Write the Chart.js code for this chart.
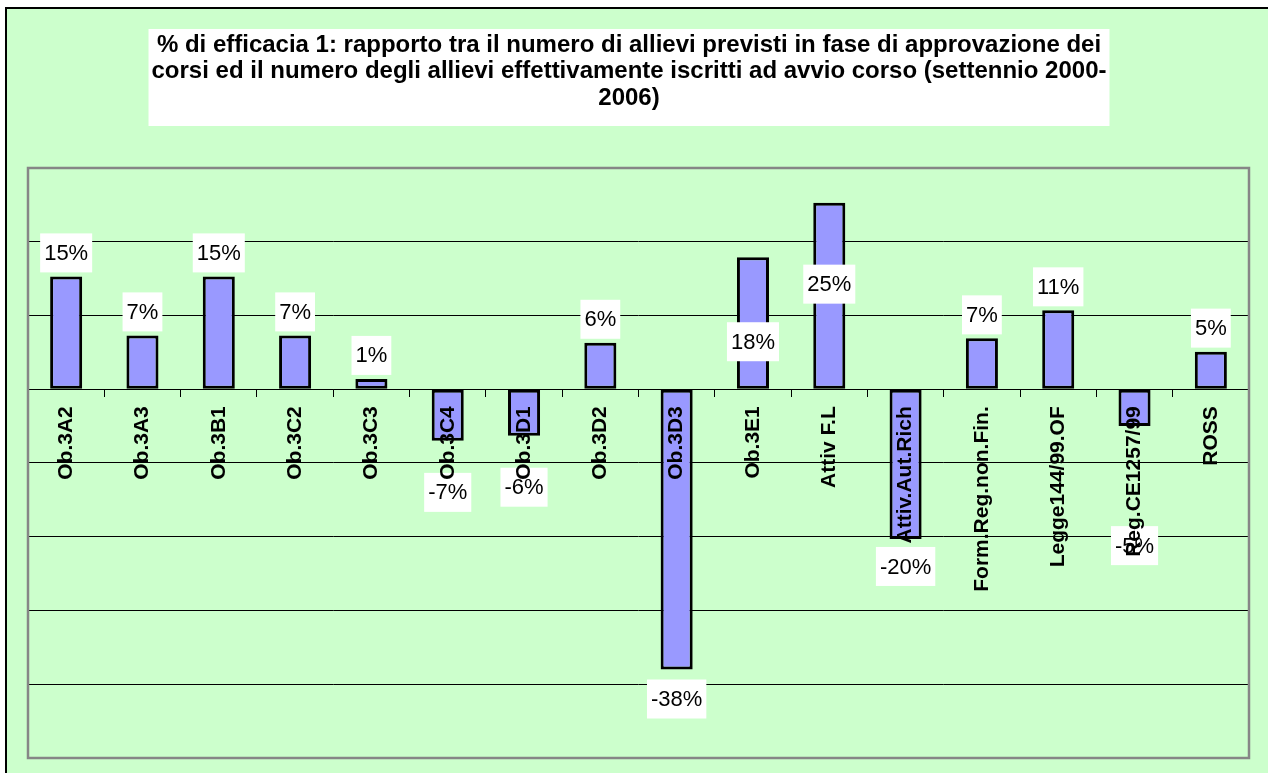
<!DOCTYPE html>
<html>
<head>
<meta charset="utf-8">
<script src="https://cdn.jsdelivr.net/npm/chart.js@4.4.0/dist/chart.umd.min.js"></script>
<style>
html, body { margin: 0; padding: 0; background: #fff; }
#wrap { position: relative; width: 1268px; height: 773px; }
</style>
</head>
<body>
<div id="wrap"><canvas id="myChart"></canvas></div>
<script>
const categories = ['Ob.3A2', 'Ob.3A3', 'Ob.3B1', 'Ob.3C2', 'Ob.3C3', 'Ob.3C4', 'Ob.3D1', 'Ob.3D2',
    'Ob.3D3', 'Ob.3E1', 'Attiv F.L', 'Attiv.Aut.Rich', 'Form.Reg.non.Fin.', 'Legge144/99.OF', 'Reg.CE1257/99', 'ROSS'];
const efficacia = [15.3, 7.3, 15.3, 7.3, 1.4, -7.0, -6.3, 6.3, -38.0, 17.9, 25.3, -20.3, 6.9, 10.7, -5.0, 5.1];
const yTicks = [-50, -40, -30, -20, -10, 0, 10, 20, 30];
// etichette spostate a mano nel grafico originale (px verso il basso)
const labelShift = [0, 0, 0, 0, 0, 24, 24, 0, 2, 108, 105, 0, 0, 0, 92, 0];
const titleLines = [
    '% di efficacia 1: rapporto tra il numero di allievi previsti in fase di approvazione dei',
    'corsi ed il numero degli allievi effettivamente iscritti ad avvio corso (settennio 2000-',
    '2006)'
];

const FONT = 'Liberation Sans';
const ctx = document.getElementById('myChart').getContext('2d');

// cornice, sfondo verde e riquadro bianco del titolo
const sfondo = {
    id: 'sfondo',
    beforeDraw(chart) {
        const c = chart.ctx;
        const w = chart.width, h = chart.height;
        c.save();
        c.fillStyle = '#fff';
        c.fillRect(0, 0, w, h);
        c.fillStyle = '#CCFFCC';
        c.fillRect(6, 8, w, h);
        c.fillStyle = '#000';
        c.fillRect(5, 7, 2, h);
        c.fillRect(5, 7, w, 2);

        const tb = chart.titleBlock;
        c.font = 'bold 24px "' + FONT + '"';
        let maxW = 0;
        titleLines.forEach(t => { maxW = Math.max(maxW, c.measureText(t).width); });
        const cx = (tb.left + tb.right) / 2;
        c.fillStyle = '#fff';
        c.fillRect(cx - maxW / 2 - 3, tb.top + 19, maxW + 6, 97);
        c.restore();
    },
    afterDraw(chart) {
        const a = chart.chartArea;
        const c = chart.ctx;
        c.save();
        c.strokeStyle = '#868686';
        c.lineWidth = 2.5;
        c.strokeRect(a.left, a.top, a.right - a.left, a.bottom - a.top);
        c.restore();
    }
};

// etichette dei valori con fondo bianco
const etichette = {
    id: 'etichette',
    afterDatasetsDraw(chart) {
        const c = chart.ctx;
        const meta = chart.getDatasetMeta(0);
        c.save();
        c.font = '22px "' + FONT + '"';
        c.textAlign = 'center';
        c.textBaseline = 'middle';
        meta.data.forEach((bar, i) => {
            const v = efficacia[i];
            const txt = Math.round(v) + '%';
            const w = c.measureText(txt).width + 8;
            const h = 39;
            let top = v >= 0 ? bar.y - 4 - h : bar.y + 8;
            top += labelShift[i];
            c.fillStyle = '#fff';
            c.fillRect(bar.x - w / 2, top, w, h);
            c.fillStyle = '#000';
            c.fillText(txt, bar.x, top + h / 2 + 1);
        });
        c.restore();
    }
};

let myChart = new Chart(ctx, {
    type: 'bar',
    data: {
        labels: categories,
        datasets: [{
            data: efficacia,
            backgroundColor: '#9999FF',
            borderColor: '#000',
            borderWidth: 3,
            borderSkipped: false,
            barPercentage: 0.42,
            categoryPercentage: 1.0
        }]
    },
    options: {
        responsive: true,
        maintainAspectRatio: false,
        animation: false,
        layout: { padding: { top: 10, left: 9, right: 19, bottom: 15 } },
        plugins: {
            legend: { display: false },
            tooltip: { enabled: false },
            title: {
                display: true,
                text: titleLines,
                color: '#000',
                font: { family: FONT, size: 24, weight: 'bold', lineHeight: 1.104 },
                padding: { top: 22, bottom: 56.5 }
            }
        },
        scales: {
            x: {
                position: { y: 0 },
                offset: true,
                grid: { display: true, drawOnChartArea: false, drawTicks: true, tickLength: 7, color: '#000', offset: true },
                border: { display: true, color: '#000', width: 1 },
                ticks: {
                    z: 1,
                    autoSkip: false,
                    minRotation: 90,
                    maxRotation: 90,
                    padding: 10,
                    color: '#000',
                    font: { family: FONT, size: 21, weight: 'bold' }
                }
            },
            y: {
                min: yTicks[0],
                max: yTicks[yTicks.length - 1],
                afterBuildTicks: (s) => { s.ticks = yTicks.map(v => ({ value: v })); },
                afterFit: (s) => { s.width = 19; },
                ticks: { display: false },
                grid: { color: '#000', lineWidth: 1, drawTicks: false },
                border: { display: false }
            }
        }
    },
    plugins: [sfondo, etichette]
});
</script>
</body>
</html>
